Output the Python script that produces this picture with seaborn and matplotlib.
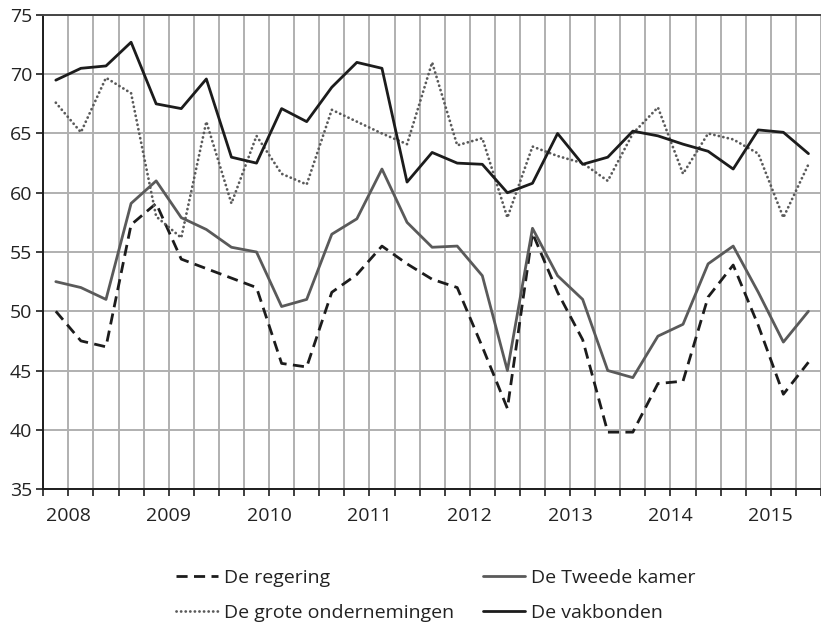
"""
Vertrouwen in instituties, 2008-2015 - line chart recreation.
"""

import matplotlib.pyplot as plt
import numpy as np
import seaborn as sns

# ---------------------------------------------------------------------------
# Data (one value per survey wave)
# ---------------------------------------------------------------------------
YEAR_LABELS = ["2008", "2009", "2010", "2011", "2012", "2013", "2014", "2015"]
YEAR_TICK_POS = [0.5, 4.5, 8.5, 12.5, 16.5, 20.5, 24.5, 28.5]

regering = [50.0, 47.5, 47.0, 57.3, 59.1, 54.4, 53.6, 52.8, 52.0, 45.6, 45.3,
            51.6, 53.1, 55.5, 54.0, 52.7, 52.0, 47.0, 41.8, 56.6, 51.6, 47.6,
            39.8, 39.8, 43.9, 44.1, 51.2, 53.9, 48.8, 43.0, 45.7]
tweede_kamer = [52.5, 52.0, 51.0, 59.1, 61.0, 57.9, 56.9, 55.4, 55.0, 50.4, 51.0,
                56.5, 57.8, 62.0, 57.5, 55.4, 55.5, 53.0, 45.0, 57.0, 53.0, 51.0,
                45.0, 44.4, 47.9, 48.9, 54.0, 55.5, 51.6, 47.4, 50.0]
grote_ondernemingen = [67.6, 65.1, 69.7, 68.4, 58.0, 56.2, 66.0, 59.1, 64.8, 61.6, 60.7,
                       67.0, 66.0, 65.0, 64.1, 71.0, 64.0, 64.6, 57.9, 63.9, 63.1, 62.5,
                       61.0, 65.0, 67.2, 61.6, 65.0, 64.5, 63.3, 57.9, 62.4]
vakbonden = [69.5, 70.5, 70.7, 72.7, 67.5, 67.1, 69.6, 63.0, 62.5, 67.1, 66.0,
             68.9, 71.0, 70.5, 60.9, 63.4, 62.5, 62.4, 60.0, 60.8, 65.0, 62.4,
             63.0, 65.2, 64.8, 64.1, 63.5, 62.0, 65.3, 65.1, 63.3]

waves = np.arange(len(regering))

# ---------------------------------------------------------------------------
# Styling
# ---------------------------------------------------------------------------
sns.set_theme(style="ticks")
plt.rcParams["font.family"] = ["Open Sans", "DejaVu Sans"]
plt.rcParams.update({"xtick.labelsize": 14, "ytick.labelsize": 14, "legend.fontsize": 14})

GRID = "#b0b0b0"
DARK = "#1c1c1c"
GREY = "#5a5a5a"
TEXT = "#222222"

fig = plt.figure(figsize=(8.21, 6.24), dpi=100)
ax = fig.add_axes([0.0527, 0.2163, 0.9473, 0.7597])

series = [
    ("De regering", regering, dict(color=DARK, linestyle=(0, (4.0, 2.3)))),
    ("De grote ondernemingen", grote_ondernemingen,
     dict(color=GREY, linestyle=(0, (0.05, 1.6)), dash_capstyle="round")),
    ("De Tweede kamer", tweede_kamer, dict(color=GREY, linestyle="-")),
    ("De vakbonden", vakbonden, dict(color=DARK, linestyle="-")),
]

for label, values, style in series:
    sns.lineplot(x=waves, y=values, ax=ax, label=label, linewidth=2.0, **style)

# Axes, grid and ticks: one tick per cell boundary, year labels every 4th
ax.set_xlim(-0.5, 30.24)
ax.set_ylim(35, 75)
ax.set_yticks(np.arange(35, 80, 5))
cell_edges = np.arange(-0.5, 31, 1.0)
year_lookup = dict(zip(YEAR_TICK_POS, YEAR_LABELS))
ax.set_xticks(cell_edges)
ax.set_xticklabels([year_lookup.get(pos, "") for pos in cell_edges])
ax.tick_params(axis="x", length=5, width=1.2, color=DARK, pad=8, labelcolor=TEXT)
ax.tick_params(axis="y", length=5, width=1.2, color=DARK, pad=3, labelcolor=TEXT)
ax.grid(True, color=GRID, linewidth=1.4)
ax.set_axisbelow(True)

for side in ["left", "bottom"]:
    ax.spines[side].set_color(DARK)
    ax.spines[side].set_linewidth(1.4)
ax.spines["top"].set_color("#444444")
ax.spines["top"].set_linewidth(1.4)
ax.spines["right"].set_visible(False)
ax.set_xlabel("")
ax.set_ylabel("")

handles, labels = ax.get_legend_handles_labels()
ax.get_legend().remove()
fig.legend(
    handles,
    labels,
    loc="center",
    bbox_to_anchor=(0.531, 0.046),
    ncol=2,
    frameon=False,
    handlelength=2.15,
    handletextpad=0.32,
    columnspacing=1.5,
    labelspacing=0.85,
    labelcolor=TEXT,
)

fig.savefig("out.png", dpi=100)
